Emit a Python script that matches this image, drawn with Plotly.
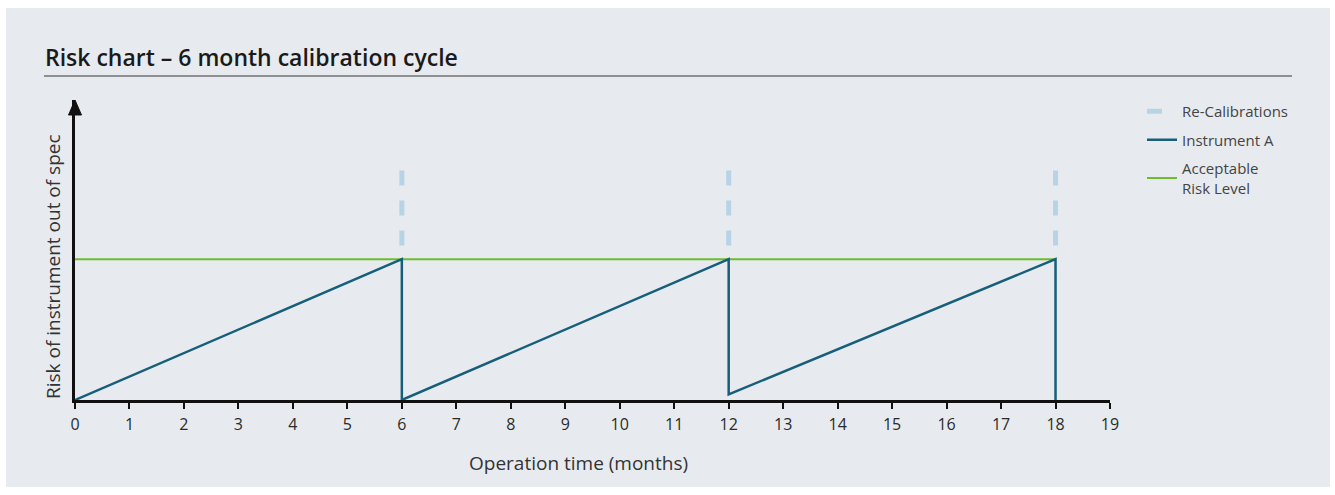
import plotly.graph_objects as go

# ---- data -------------------------------------------------------------
months_ticks = list(range(0, 20))
instrument_x = [0, 6, 6, 12, 12, 18, 18]
instrument_y = [0, 1, 0, 1, 0.04, 1, 0]
acceptable_x = [0, 18]
acceptable_y = [1, 1]
recal_months = [6, 12, 18]
recal_top = 1.63
recal_bottom = 1.0

# ---- layout geometry (pixels) ------------------------------------------
W, H = 1335, 495
ML, MR, MT, MB = 75, 225, 100, 95
PW, PH = W - ML - MR, H - MT - MB

def px(x):
    return (x - ML) / PW

def py(y):
    return (H - MB - y) / PH

PANEL = "#e7ebef"
FONT = "Open Sans"
TEAL = "#175e7a"
GREEN = "#6cbd2d"
LIGHTBLUE = "#b7d4e6"

fig = go.Figure()

# re-calibration markers, one dashed vertical per calibration
rx, ry = [], []
for m in recal_months:
    rx += [m, m, None]
    ry += [recal_top, recal_bottom, None]
fig.add_trace(go.Scatter(
    x=rx, y=ry, mode="lines", name="Re-Calibrations",
    line=dict(color=LIGHTBLUE, width=5, dash="15px,15px"),
    legendgroup="a", legendrank=1, hoverinfo="skip"))

fig.add_trace(go.Scatter(
    x=acceptable_x, y=acceptable_y, mode="lines",
    name="Acceptable<br>Risk Level",
    line=dict(color=GREEN, width=2), legendgroup="c", legendrank=3))

fig.add_trace(go.Scatter(
    x=instrument_x, y=instrument_y, mode="lines", name="Instrument A",
    line=dict(color=TEAL, width=2.5), legendgroup="b", legendrank=2))

shapes = [
    # background panel
    dict(type="rect", xref="paper", yref="paper", layer="below",
         x0=px(6), x1=px(1330), y0=py(487), y1=py(8),
         fillcolor=PANEL, line=dict(width=0)),
    # title rule
    dict(type="line", xref="paper", yref="paper",
         x0=px(44), x1=px(1292), y0=py(76), y1=py(76),
         line=dict(color="#707070", width=1.5)),
    # arrowhead at the top of the y axis
    dict(type="path", xref="paper", yref="paper", xsizemode="pixel", ysizemode="pixel",
         xanchor=0, yanchor=1,
         path="M-6.5,-15 L0,0 L6.5,-15 Z", fillcolor="#111111",
         line=dict(color="#111111", width=1)),
]

annotations = [
    dict(text="Risk chart – 6 month calibration cycle", xref="paper", yref="paper",
         x=px(43), y=py(57), xanchor="left", yanchor="middle", showarrow=False,
         font=dict(family=FONT, size=23, color="#1a1a1a", weight=600)),
    dict(text="Operation time (months)", xref="paper", yref="paper",
         x=px(578), y=py(463), xanchor="center", yanchor="middle", showarrow=False,
         font=dict(family=FONT, size=19, color="#333333")),
    dict(text="Risk of instrument out of spec", xref="paper", yref="paper",
         x=px(53), y=py(267), xanchor="center", yanchor="middle", showarrow=False,
         textangle=-90, font=dict(family=FONT, size=19, color="#333333")),
]

fig.update_layout(
    width=W, height=H,
    margin=dict(l=ML, r=MR, t=MT, b=MB),
    paper_bgcolor="white", plot_bgcolor="rgba(0,0,0,0)",
    font=dict(family=FONT, color="#333333"),
    shapes=shapes, annotations=annotations,
    showlegend=True,
    legend=dict(x=px(1142), y=py(95), xanchor="left", yanchor="top",
                bgcolor="rgba(0,0,0,0)", font=dict(family=FONT, size=15, color="#444444"),
                tracegroupgap=6, itemwidth=30),
)

fig.update_xaxes(
    range=[0, 19], tickvals=months_ticks, ticktext=[str(t) for t in months_ticks],
    showgrid=False, zeroline=False, showline=True, linecolor="#111111", linewidth=2.5,
    ticks="outside", ticklen=6, tickwidth=2, tickcolor="#111111", ticklabelstandoff=2,
    tickfont=dict(family=FONT, size=16, color="#2a2a2a"), fixedrange=True)

fig.update_yaxes(
    range=[0, 2.13], showgrid=False, zeroline=False, showticklabels=False,
    showline=True, linecolor="#111111", linewidth=2.5, ticks="", fixedrange=True)

fig.write_html("out.html")
